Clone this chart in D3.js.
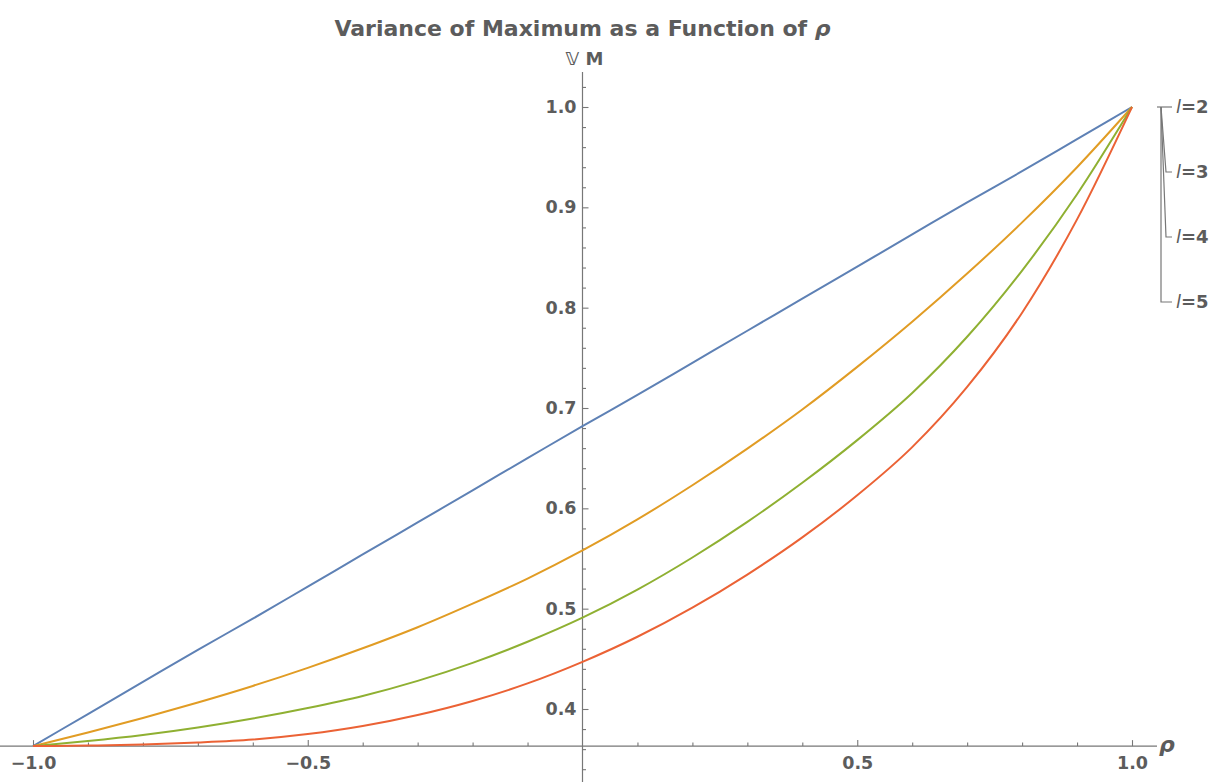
<!DOCTYPE html>
<html>
<head>
<meta charset="utf-8">
<script src="https://cdn.jsdelivr.net/npm/d3@7"></script>
<style>
  body { margin: 0; background: #fff; }
  svg { display: block; }
</style>
</head>
<body>
<svg id="chart"></svg>
<script>
const width = 1225, height = 782;

// DATA
const rho = [-1.0, -0.9, -0.8, -0.7, -0.6, -0.5, -0.4, -0.3, -0.2, -0.1, 0.0,
              0.1,  0.2,  0.3,  0.4,  0.5,  0.6,  0.7,  0.8,  0.9, 1.0];
const var_l2 = [0.363, 0.395, 0.427, 0.459, 0.490, 0.522, 0.554, 0.586, 0.618, 0.650, 0.682,
                0.713, 0.745, 0.777, 0.809, 0.841, 0.873, 0.905, 0.936, 0.968, 1.0];
const var_l3 = [0.363, 0.3765, 0.391, 0.4065, 0.423, 0.441, 0.4605, 0.4815, 0.505, 0.530, 0.558,
                0.589, 0.623, 0.6595, 0.6985, 0.741, 0.786, 0.834, 0.885, 0.940, 1.0];
const var_l4 = [0.363, 0.368, 0.374, 0.3815, 0.3905, 0.401, 0.413, 0.428, 0.446, 0.467, 0.491,
                0.519, 0.551, 0.5865, 0.6255, 0.668, 0.715, 0.771, 0.837, 0.913, 1.0];
const var_l5 = [0.363, 0.3635, 0.3645, 0.3665, 0.3695, 0.375, 0.383, 0.394, 0.408, 0.4255, 0.447,
                0.472, 0.501, 0.534, 0.571, 0.613, 0.661, 0.721, 0.795, 0.888, 1.0];
const series_names = ["l=2", "l=3", "l=4", "l=5"];
const series_values = [var_l2, var_l3, var_l4, var_l5];
const colors = ["#5e81b5", "#e19c24", "#8fb032", "#eb6235"];
const x_major = [-1.0, -0.5, 0.5, 1.0];
const x_minor = [-0.9, -0.8, -0.7, -0.6, -0.4, -0.3, -0.2, -0.1, 0.1, 0.2, 0.3, 0.4, 0.6, 0.7, 0.8, 0.9];
const y_major = [0.4, 0.5, 0.6, 0.7, 0.8, 0.9, 1.0];
const y_minor = [0.34, 0.36, 0.38, 0.42, 0.44, 0.46, 0.48, 0.52, 0.54, 0.56, 0.58, 0.62, 0.64, 0.66, 0.68,
                 0.72, 0.74, 0.76, 0.78, 0.82, 0.84, 0.86, 0.88, 0.92, 0.94, 0.96, 0.98, 1.02];

const axisColor = "#777";
const textColor = "#5c5c5c";
const font = "'DejaVu Sans', Arial, sans-serif";

const svg = d3.select("#chart")
    .attr("width", width)
    .attr("height", height)
    .style("font-family", font);

const x = d3.scaleLinear()
    .domain([-1, 1])
    .range([33, 1132]);
const y = d3.scaleLinear()
    .domain([0.4, 1.0])
    .range([709, 107]);

const yOrigin = d3.min(var_l2);

// x axis
svg.append("line")
    .attr("x1", 0).attr("x2", 1157)
    .attr("y1", y(yOrigin)).attr("y2", y(yOrigin))
    .attr("stroke", axisColor).attr("stroke-width", 1.2);

const xMajorAxis = svg.append("g")
    .attr("transform", `translate(0, ${y(yOrigin)})`)
    .call(d3.axisBottom(x).tickValues(x_major).tickSize(-6).tickSizeOuter(0).tickPadding(10)
        .tickFormat(d => d3.format(".1f")(d).replace("-", "\u2212")));
xMajorAxis.select(".domain").remove();
svg.append("g")
    .attr("transform", `translate(0, ${y(yOrigin)})`)
    .call(d3.axisBottom(x).tickValues(x_minor).tickSize(-3.5).tickSizeOuter(0).tickFormat(""))
    .select(".domain").remove();

// y axis
svg.append("line")
    .attr("x1", x(0)).attr("x2", x(0))
    .attr("y1", 72).attr("y2", height)
    .attr("stroke", axisColor).attr("stroke-width", 1.2);

const yMajorAxis = svg.append("g")
    .attr("transform", `translate(${x(0)}, 0)`)
    .call(d3.axisLeft(y).tickValues(y_major).tickSize(-6).tickSizeOuter(0).tickPadding(6)
        .tickFormat(d3.format(".1f")));
yMajorAxis.select(".domain").remove();
svg.append("g")
    .attr("transform", `translate(${x(0)}, 0)`)
    .call(d3.axisLeft(y).tickValues(y_minor).tickSize(-3.5).tickSizeOuter(0).tickFormat(""))
    .select(".domain").remove();

svg.selectAll(".tick line").attr("stroke", axisColor).attr("stroke-width", 1.1);
svg.selectAll(".tick text")
    .attr("fill", textColor)
    .style("font-family", font)
    .style("font-size", "17.5px")
    .style("font-weight", "bold");

// curves
const line = d3.line()
    .curve(d3.curveMonotoneX)
    .x(d => x(d.x))
    .y(d => y(d.y));

series_values.forEach(function (vals, i) {
    const data = rho.map((r, j) => ({ x: r, y: vals[j] }));
    svg.append("path")
        .datum(data)
        .attr("fill", "none")
        .attr("stroke", colors[i])
        .attr("stroke-width", 2)
        .attr("stroke-linejoin", "round")
        .attr("d", line);
});

// titles
svg.append("text")
    .attr("x", x(0)).attr("y", 36)
    .attr("text-anchor", "middle")
    .attr("fill", textColor)
    .style("font-size", "22px").style("font-weight", "bold")
    .html('Variance of Maximum as a Function of <tspan font-style="italic">\u03c1</tspan>');

svg.append("text")
    .attr("x", x(0) + 2).attr("y", 65)
    .attr("text-anchor", "middle")
    .attr("fill", textColor)
    .style("font-size", "18px").style("font-weight", "bold")
    .text("\u{1D54D} M");

svg.append("text")
    .attr("x", 1159).attr("y", y(yOrigin) + 6)
    .attr("fill", textColor)
    .style("font-size", "22px").style("font-style", "italic").style("font-weight", "bold")
    .text("\u03c1");

// legend: callout lines that all start at the common end point rho = 1
const legX = 1161;
const legY0 = y(1.0);
const legStep = 65;
const legBend = [0, 5, 5, 0];
const legend = svg.append("g");
legend.append("line")
    .attr("x1", legX - 4).attr("x2", legX)
    .attr("y1", legY0).attr("y2", legY0)
    .attr("stroke", axisColor).attr("stroke-width", 1.2);

series_names.forEach(function (name, i) {
    const ly = legY0 + legStep * i;
    legend.append("path")
        .attr("d", `M${legX},${legY0}L${legX + legBend[i]},${ly}L${legX + 11},${ly}`)
        .attr("fill", "none")
        .attr("stroke", axisColor).attr("stroke-width", 1.2);
    legend.append("text")
        .attr("x", legX + 15).attr("y", ly + 6)
        .attr("fill", textColor)
        .style("font-size", "18px").style("font-weight", "bold")
        .html('<tspan font-style="italic" font-weight="normal">l</tspan>' + name.slice(1));
});
</script>
</body>
</html>
